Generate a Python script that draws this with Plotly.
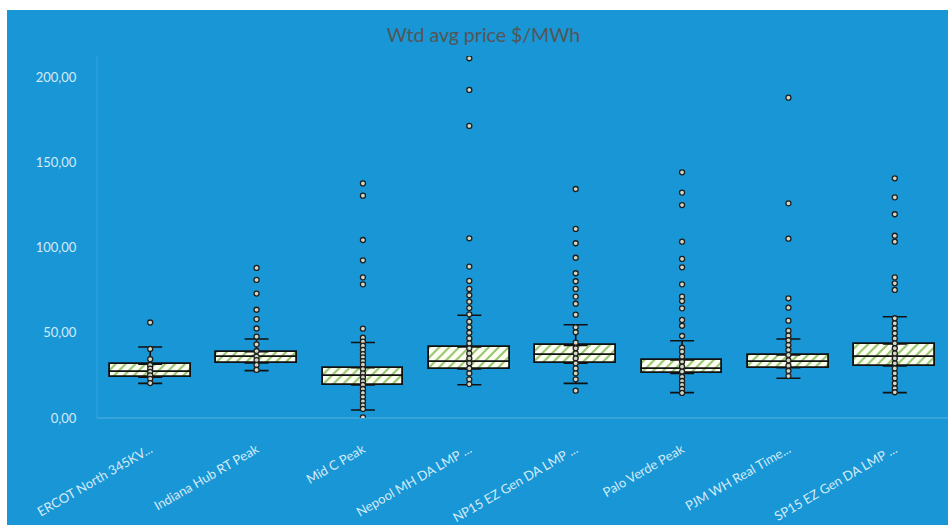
import numpy as np
import plotly.graph_objects as go

# ---------------- data ----------------
categories = ["ERCOT North 345KV...", "Indiana Hub RT Peak", "Mid C Peak", "Nepool MH DA LMP ...",
              "NP15 EZ Gen DA LMP ...", "Palo Verde Peak", "PJM WH Real Time...", "SP15 EZ Gen DA LMP ..."]

ercot_pts = [56, 40.5, 34.5, 31, 29, 27, 25, 23, 20.5]
indiana_pts = [88, 81, 73, 63.5, 58, 52.5, 47.7, 43.2, 39.3, 36, 34, 31.1, 28.2]
midc_pts = [137.6, 130.4, 104.4, 92.5, 82.5, 78.4, 52.4, 47.1, 44.8, 42.4, 39.9, 37.5, 35.6, 33.4,
            31.3, 28.7, 26.2, 23.9, 21.5, 19.4, 17.0, 14.7, 12.3, 9.8, 7.4, 5.3, 0.4]
nepool_pts = [211, 192.4, 171.3, 105.4, 88.8, 80.4, 75.7, 72.0, 68.2, 64.5, 60.8, 56.5, 53.2, 50.0,
              46.7, 43.8, 40.9, 37.9, 35.0, 32.1, 29.1, 26.2, 22.7, 19.9]
np15_pts = [134.3, 110.9, 102.5, 94.0, 84.9, 80.2, 75.7, 71.2, 67.0, 60.6, 53.2, 50.3, 44.2, 40.9,
            37.9, 35.0, 32.1, 29.1, 26.2, 22.7, 16.0]
paloverde_pts = [144.1, 132.2, 124.9, 103.4, 93.3, 88.4, 78.4, 71.2, 68.6, 64.3, 57.5, 54.1, 48.1,
                 41.2, 38.9, 36.0, 33.0, 30.1, 27.2, 24.2, 21.7, 19.4, 17.0, 14.7]
pjm_pts = [187.9, 125.9, 105.2, 70.2, 64.7, 57.1, 51.2, 48.3, 45.6, 42.8, 39.9, 37.0, 33.8, 30.7,
           27.6, 24.6]
sp15_pts = [140.6, 129.4, 119.5, 106.9, 103.4, 82.5, 79.0, 75.1, 58.5, 55.5, 52.6, 49.7, 46.7, 43.8,
            40.9, 37.9, 35.0, 32.1, 29.1, 26.2, 23.3, 20.3, 17.4, 15.1]

all_points = [ercot_pts, indiana_pts, midc_pts, nepool_pts, np15_pts, paloverde_pts, pjm_pts, sp15_pts]

q1 = [23.9, 32.3, 19.4, 28.7, 32.1, 26.2, 29.5, 30.5]
median = [27.2, 35.6, 24.6, 33.0, 37.0, 28.6, 33.0, 36.0]
q3 = [31.5, 38.9, 29.5, 41.7, 42.6, 34.0, 37.0, 43.4]
lower_whisker = [20.3, 27.8, 4.7, 19.5, 20.3, 14.9, 23.3, 14.9]
upper_whisker = [41.6, 46.3, 44.3, 60.3, 54.7, 45.3, 46.3, 59.4]

title_text = "Wtd avg price $/MWh"
y_ticks = [0, 50, 100, 150, 200]

# ---------------- styling ----------------
BLUE = "#1896d5"
W, H = 948, 525
ML, MR, MT, MB = 97, 0, 56, 107
PW, PH = W - ML - MR, H - MT - MB

pos = np.arange(len(categories))
q1a, meda, q3a = np.array(q1), np.array(median), np.array(q3)
loa, hia = np.array(lower_whisker), np.array(upper_whisker)

fig = go.Figure()

pattern = dict(shape="/", fgcolor="#93c46b", bgcolor="#fdfdf2", size=7, solidity=0.28, fillmode="replace")
for base, top in [(q1a, meda), (meda, q3a)]:
    fig.add_trace(go.Bar(
        x=pos, y=top - base, base=base, width=0.76,
        marker=dict(color="#fdfdf2", pattern=pattern, line=dict(color="#111111", width=1.8)),
        hoverinfo="skip", showlegend=False))

# whiskers (error bars from box edges)
fig.add_trace(go.Scatter(
    x=pos, y=q3a, mode="markers", marker=dict(opacity=0, size=1), showlegend=False, hoverinfo="skip",
    error_y=dict(type="data", symmetric=False, array=hia - q3a, arrayminus=np.zeros(len(pos)),
                 width=12, thickness=1.6, color="#111111")))
fig.add_trace(go.Scatter(
    x=pos, y=q1a, mode="markers", marker=dict(opacity=0, size=1), showlegend=False, hoverinfo="skip",
    error_y=dict(type="data", symmetric=False, array=np.zeros(len(pos)), arrayminus=q1a - loa,
                 width=12, thickness=1.6, color="#111111")))

# data points
px_, py_ = [], []
for i, pts in enumerate(all_points):
    px_ += [i] * len(pts)
    py_ += pts
fig.add_trace(go.Scatter(
    x=px_, y=py_, mode="markers", showlegend=False, hoverinfo="y",
    marker=dict(size=5, color="#d2d6c4", line=dict(color="#1e1e1e", width=1.3))))

# blue chart-area background (white strip at top/left like the reference)
fig.add_shape(type="rect", xref="paper", yref="paper", layer="below",
              x0=(7 - ML) / PW, x1=1.0, y0=-(MB) / PH, y1=(H - MB - 10) / PH,
              fillcolor=BLUE, line=dict(width=0))

fig.update_layout(
    width=W, height=H,
    margin=dict(l=ML, r=MR, t=MT, b=MB, pad=0, autoexpand=False),
    paper_bgcolor="white", plot_bgcolor=BLUE,
    separators=",.",
    bargap=0, barmode="overlay",
    title=dict(text=title_text, x=0.51, xanchor="center", y=1 - 35 / H, yanchor="middle",
               font=dict(family="Lato", size=19.5, color="#555555")),
    font=dict(family="Lato"),
    xaxis=dict(range=[-0.5, len(categories) - 0.5], tickvals=pos, ticktext=categories,
               tickangle=-30, showgrid=False, zeroline=False, showline=False, automargin=False,
               ticks="outside", ticklen=18, tickcolor="rgba(0,0,0,0)",
               tickfont=dict(family="Lato", size=13, color="#d4ebf8")),
    yaxis=dict(range=[0, (H - MB - MT) / 1.705], tickvals=y_ticks, tickformat=".2f",
               showgrid=False, zeroline=False, showline=False, automargin=False,
               ticks="outside", ticklen=17, tickcolor="rgba(0,0,0,0)",
               tickfont=dict(family="Lato", size=13, color="#d4ebf8")),
)

# faint axis lines
fig.add_shape(type="line", xref="paper", yref="paper", x0=0, x1=1, y0=0, y1=0,
              line=dict(color="rgba(255,255,255,0.18)", width=1.5))
fig.add_shape(type="line", xref="paper", yref="paper", x0=0, x1=0, y0=0, y1=1,
              line=dict(color="rgba(255,255,255,0.12)", width=1))

fig.write_html("out.html")
